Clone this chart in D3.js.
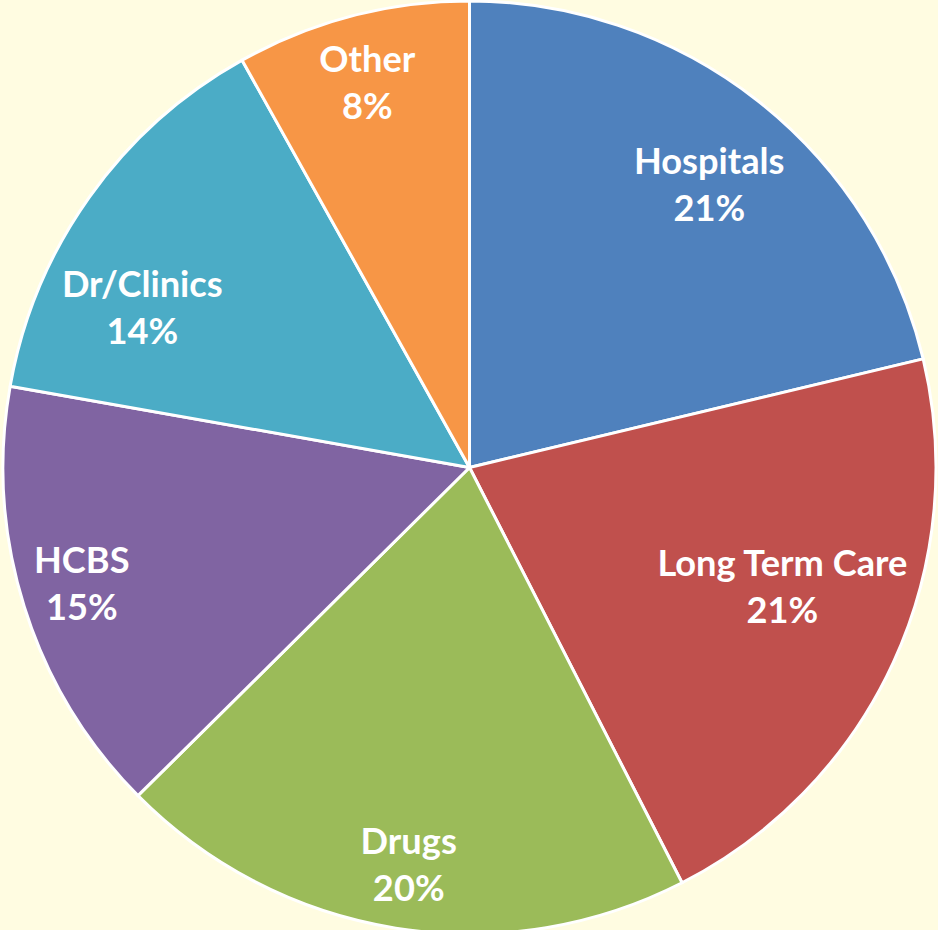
<!DOCTYPE html>
<html>
<head>
<meta charset="utf-8">
<script src="https://cdn.jsdelivr.net/npm/d3@7"></script>
<style>
  body { margin: 0; background: #FFFCE1; }
  svg { display: block; }
</style>
</head>
<body>
<script>
var width = 938, height = 930;

// spending shares (clockwise from 12 o'clock)
var categories = ["Hospitals", "Long Term Care", "Drugs", "HCBS", "Dr/Clinics", "Other"];
var shares = [21.25, 21.2, 20.1, 15.2, 14.1, 8.1];
var colors = ["#4F81BD", "#C0504D", "#9BBB59", "#8064A2", "#4BACC6", "#F79646"];

// label placement: radius as fraction of pie radius, and angle nudge in degrees
var labelRadius = [0.795, 0.718, 0.862, 0.868, 0.78, 0.853];
var labelNudge = [2, -3.8, -0.4, 0.6, -9.5, -0.3];

var cx = 469.5, cy = 467.5, r = 466.5;

var svg = d3.select("body").append("svg")
    .attr("width", width)
    .attr("height", height);

var data = categories.map((c, i) => ({name: c, value: shares[i], i: i}));

var pie = d3.pie()
    .sort(null)
    .value(d => d.value);

var arcs = pie(data);

var arc = d3.arc()
    .innerRadius(0)
    .outerRadius(r);

var g = svg.append("g")
    .attr("transform", `translate(${cx},${cy})`);

g.selectAll("path")
  .data(arcs)
  .join("path")
    .attr("d", arc)
    .attr("fill", d => colors[d.data.i])
    .attr("stroke", "#fff")
    .attr("stroke-width", 3)
    .attr("stroke-linejoin", "round");

// fit the font so "Long Term Care" is about as wide as in the picture
var fontFamily = "Lato, 'Open Sans', sans-serif";
var probe = svg.append("text")
    .attr("font-family", fontFamily)
    .attr("font-weight", 700)
    .attr("font-size", 100)
    .text("Long Term Care");
var fs = 100 * 250 / probe.node().getComputedTextLength();
probe.remove();

var labels = g.selectAll("g.label")
  .data(arcs)
  .join("g")
    .attr("class", "label")
    .attr("transform", d => {
      var i = d.data.i;
      var a = (d.startAngle + d.endAngle) / 2 + labelNudge[i] * Math.PI / 180;
      var rr = r * labelRadius[i];
      return `translate(${rr * Math.sin(a)},${-rr * Math.cos(a)})`;
    })
    .attr("font-family", fontFamily)
    .attr("font-weight", 700)
    .attr("font-size", fs)
    .attr("fill", "#fff")
    .attr("text-anchor", "middle");

labels.append("text")
    .attr("y", -23.5 + 12.5)
    .text(d => d.data.name);

labels.append("text")
    .attr("y", 23.5 + 12.5)
    .text(d => Math.round(d.data.value) + "%");
</script>
</body>
</html>
